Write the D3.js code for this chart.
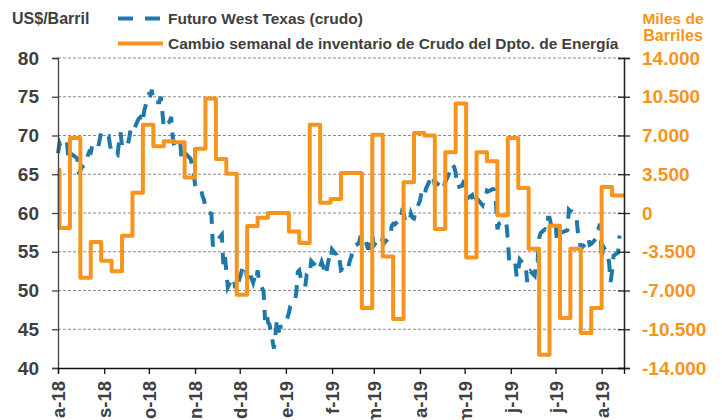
<!DOCTYPE html>
<html>
<head>
<meta charset="utf-8">
<script src="https://cdn.jsdelivr.net/npm/d3@7"></script>
<style>
  body { margin: 0; background: #fff; }
  svg { font-family: "Liberation Sans", Arial, sans-serif; font-weight: bold; }
</style>
</head>
<body>
<div id="chart"></div>
<script>
// Futuro WTI (US$/barril), dias habiles
var wtiData = [
  ["2018-08-01",67.7],["2018-08-02",69.0],["2018-08-03",68.5],["2018-08-06",69.0],["2018-08-07",69.2],["2018-08-08",66.9],["2018-08-09",66.8],["2018-08-10",67.6],
  ["2018-08-13",67.2],["2018-08-14",67.0],["2018-08-15",65.0],["2018-08-16",65.5],["2018-08-17",65.9],["2018-08-20",66.4],["2018-08-21",67.4],["2018-08-22",67.9],
  ["2018-08-23",67.8],["2018-08-24",68.7],["2018-08-27",68.9],["2018-08-28",68.5],["2018-08-29",69.5],["2018-08-30",70.3],["2018-08-31",69.8],
  ["2018-09-04",69.9],["2018-09-05",68.7],["2018-09-06",67.8],["2018-09-07",67.8],["2018-09-10",67.5],["2018-09-11",69.3],["2018-09-12",70.4],["2018-09-13",68.6],
  ["2018-09-14",69.0],["2018-09-17",68.9],["2018-09-18",69.9],["2018-09-19",71.1],["2018-09-20",70.8],["2018-09-21",70.8],["2018-09-24",72.1],["2018-09-25",72.3],
  ["2018-09-26",71.6],["2018-09-27",72.1],["2018-09-28",73.3],
  ["2018-10-01",75.3],["2018-10-02",75.2],["2018-10-03",75.9],["2018-10-04",74.3],["2018-10-05",74.3],["2018-10-08",74.3],["2018-10-09",75.0],["2018-10-10",73.2],
  ["2018-10-11",71.0],["2018-10-12",71.3],["2018-10-15",71.8],["2018-10-16",72.4],["2018-10-17",69.8],["2018-10-18",68.7],["2018-10-19",69.1],["2018-10-22",69.2],
  ["2018-10-23",66.9],["2018-10-24",66.8],["2018-10-25",67.3],["2018-10-26",67.6],["2018-10-29",67.0],["2018-10-30",66.2],["2018-10-31",65.3],
  ["2018-11-01",63.7],["2018-11-02",63.1],["2018-11-05",63.1],["2018-11-06",62.2],["2018-11-07",61.7],["2018-11-08",60.7],["2018-11-09",60.2],["2018-11-12",59.9],
  ["2018-11-13",55.7],["2018-11-14",56.3],["2018-11-15",56.5],["2018-11-16",56.5],["2018-11-19",57.2],["2018-11-20",53.4],["2018-11-21",54.6],["2018-11-23",50.4],
  ["2018-11-26",51.6],["2018-11-27",51.6],["2018-11-28",50.3],["2018-11-29",51.5],["2018-11-30",50.9],
  ["2018-12-03",53.0],["2018-12-04",53.3],["2018-12-05",52.9],["2018-12-06",51.5],["2018-12-07",52.6],["2018-12-10",51.0],["2018-12-11",51.7],["2018-12-12",51.2],
  ["2018-12-13",52.6],["2018-12-14",51.2],["2018-12-17",49.9],["2018-12-18",46.2],["2018-12-19",47.2],["2018-12-20",45.9],["2018-12-21",45.6],["2018-12-24",42.5],
  ["2018-12-26",46.2],["2018-12-27",44.6],["2018-12-28",45.3],["2018-12-31",45.4],
  ["2019-01-02",46.5],["2019-01-03",47.1],["2019-01-04",48.0],["2019-01-07",48.5],["2019-01-08",49.8],["2019-01-09",52.4],["2019-01-10",52.6],["2019-01-11",51.6],
  ["2019-01-14",50.5],["2019-01-15",52.1],["2019-01-16",52.3],["2019-01-17",52.1],["2019-01-18",53.8],["2019-01-22",53.0],["2019-01-23",52.6],["2019-01-24",53.1],
  ["2019-01-25",53.7],["2019-01-28",52.0],["2019-01-29",53.3],["2019-01-30",54.2],["2019-01-31",53.8],
  ["2019-02-01",55.3],["2019-02-04",54.6],["2019-02-05",53.7],["2019-02-06",54.0],["2019-02-07",52.6],["2019-02-08",52.7],["2019-02-11",52.4],["2019-02-12",53.1],
  ["2019-02-13",53.9],["2019-02-14",54.4],["2019-02-15",55.6],["2019-02-19",56.1],["2019-02-20",56.9],["2019-02-21",57.0],["2019-02-22",57.3],["2019-02-25",55.5],
  ["2019-02-26",55.5],["2019-02-27",56.9],["2019-02-28",57.2],
  ["2019-03-01",55.8],["2019-03-04",56.6],["2019-03-05",56.6],["2019-03-06",56.2],["2019-03-07",56.7],["2019-03-08",56.1],["2019-03-11",56.8],["2019-03-12",56.9],
  ["2019-03-13",58.3],["2019-03-14",58.6],["2019-03-15",58.5],["2019-03-18",59.1],["2019-03-19",59.0],["2019-03-20",60.2],["2019-03-21",60.0],["2019-03-22",59.0],
  ["2019-03-25",58.8],["2019-03-26",59.9],["2019-03-27",59.4],["2019-03-28",59.3],["2019-03-29",60.1],
  ["2019-04-01",61.6],["2019-04-02",62.6],["2019-04-03",62.5],["2019-04-04",62.1],["2019-04-05",63.1],["2019-04-08",64.4],["2019-04-09",64.1],["2019-04-10",64.6],
  ["2019-04-11",63.6],["2019-04-12",63.9],["2019-04-15",63.4],["2019-04-16",64.1],["2019-04-17",63.8],["2019-04-18",64.0],["2019-04-22",65.7],["2019-04-23",66.3],
  ["2019-04-24",65.9],["2019-04-25",65.2],["2019-04-26",63.3],["2019-04-29",63.5],["2019-04-30",63.9],
  ["2019-05-01",63.6],["2019-05-02",61.8],["2019-05-03",61.9],["2019-05-06",62.3],["2019-05-07",61.4],["2019-05-08",62.1],["2019-05-09",61.7],["2019-05-10",61.7],
  ["2019-05-13",61.0],["2019-05-14",61.8],["2019-05-15",62.0],["2019-05-16",62.9],["2019-05-17",62.8],["2019-05-20",63.1],["2019-05-21",63.0],["2019-05-22",61.4],
  ["2019-05-23",57.9],["2019-05-24",58.6],["2019-05-28",59.1],["2019-05-29",58.8],["2019-05-30",56.6],["2019-05-31",53.5],
  ["2019-06-03",53.3],["2019-06-04",53.5],["2019-06-05",51.7],["2019-06-06",52.6],["2019-06-07",54.0],["2019-06-10",53.3],["2019-06-11",53.3],["2019-06-12",51.1],
  ["2019-06-13",52.3],["2019-06-14",52.5],["2019-06-17",51.9],["2019-06-18",53.9],["2019-06-19",53.8],["2019-06-20",56.7],["2019-06-21",57.4],["2019-06-24",57.9],
  ["2019-06-25",57.8],["2019-06-26",59.4],["2019-06-27",59.4],["2019-06-28",58.5],
  ["2019-07-01",59.1],["2019-07-02",56.3],["2019-07-03",57.3],["2019-07-05",57.5],["2019-07-08",57.7],["2019-07-09",57.8],["2019-07-10",60.4],["2019-07-11",60.2],
  ["2019-07-12",60.2],["2019-07-15",59.6],["2019-07-16",57.6],["2019-07-17",56.8],["2019-07-18",55.3],["2019-07-19",55.6],["2019-07-22",56.2],["2019-07-23",56.8],
  ["2019-07-24",55.9],["2019-07-25",56.0],["2019-07-26",56.2],["2019-07-29",56.9],["2019-07-30",58.1],["2019-07-31",58.6],
  ["2019-08-01",54.0],["2019-08-02",55.7],["2019-08-05",54.7],["2019-08-06",53.6],["2019-08-07",51.1],["2019-08-08",52.5],["2019-08-09",54.5],["2019-08-12",54.9],
  ["2019-08-13",57.1]
];

// Cambio semanal de inventarios (miles de barriles)
var invDates = [
  "2018-08-01","2018-08-02","2018-08-09","2018-08-16","2018-08-23","2018-08-30","2018-09-06","2018-09-13","2018-09-20","2018-09-27",
  "2018-10-04","2018-10-11","2018-10-18","2018-10-25","2018-11-01","2018-11-08","2018-11-15","2018-11-22","2018-11-29",
  "2018-12-06","2018-12-13","2018-12-20","2018-12-27","2019-01-03","2019-01-10","2019-01-17","2019-01-24","2019-01-31",
  "2019-02-07","2019-02-14","2019-02-21","2019-02-28","2019-03-07","2019-03-14","2019-03-21","2019-03-28",
  "2019-04-04","2019-04-11","2019-04-18","2019-04-25","2019-05-02","2019-05-09","2019-05-16","2019-05-23","2019-05-30",
  "2019-06-06","2019-06-13","2019-06-20","2019-06-27","2019-07-04","2019-07-11","2019-07-18","2019-07-25","2019-08-01","2019-08-08",
  "2019-08-16"
];
var invValues = [
  3900,-1350,6780,-5850,-2620,-4310,-5270,-2050,1820,7980,
  6020,6470,6400,3200,5810,10350,4870,3540,-7380,
  -1180,-420,0,0,-1660,-2710,7980,920,1260,
  3610,3610,-8580,7070,-3920,-9580,2770,7230,
  6990,-1450,5480,9880,-4010,5480,4670,-210,6780,
  2260,-3220,-12800,-1150,-9490,-3220,-10840,-8580,2350,1590,
  1590
];

var leftTicks = [40, 45, 50, 55, 60, 65, 70, 75, 80];
var rightTicks = [-14000, -10500, -7000, -3500, 0, 3500, 7000, 10500, 14000];
var monthTicks = ["2018-08-01","2018-09-01","2018-10-01","2018-11-01","2018-12-01","2019-01-01","2019-02-01",
                  "2019-03-01","2019-04-01","2019-05-01","2019-06-01","2019-07-01","2019-08-01"];
var monthLabels = ["a-18","s-18","o-18","n-18","d-18","e-19","f-19","m-19","a-19","m-19","j-19","j-19","a-19"];

var seriesNames = ["Futuro West Texas (crudo)", "Cambio semanal de inventario de Crudo del Dpto. de Energía"];
var blue = "#1F78AA", orange = "#F7941D", dark = "#404040";

(function () {
  var parse = d3.timeParse("%Y-%m-%d");
  var W = 722, H = 420;
  var padL = 58, padR = 624, padT = 58, padB = 368;

  var svg = d3.select("#chart").append("svg").attr("width", W).attr("height", H);

  var x = d3.scaleTime().domain([parse("2018-08-01"), parse("2019-08-16")]).range([padL, padR]);
  var yL = d3.scaleLinear().domain([40, 80]).range([padB, padT]);
  var yR = d3.scaleLinear().domain([-14000, 14000]).range([padB, padT]);

  var es = d3.formatLocale({decimal: ",", thousands: ".", grouping: [3], currency: ["$", ""], minus: "-"});
  var fmtR = es.format(",.0f");

  // lineas de grilla
  svg.append("g").selectAll("line")
    .data(leftTicks.filter(function(d) { return d > 40; }))
    .enter().append("line")
    .attr("x1", padL).attr("x2", padR)
    .attr("y1", function(d) { return yL(d); }).attr("y2", function(d) { return yL(d); })
    .style("stroke", "#8a8a8a").style("stroke-width", 1).style("stroke-dasharray", "3,2");

  // serie azul (WTI)
  var wtiLine = d3.line()
    .x(function(d) { return x(parse(d[0])); })
    .y(function(d) { return yL(d[1]); });
  svg.append("path").datum(wtiData)
    .attr("d", wtiLine)
    .style("fill", "none").style("stroke", blue).style("stroke-width", 4)
    .style("stroke-dasharray", "13,10");

  // serie naranja (inventarios)
  var invData = invDates.map(function(d, i) { return {date: parse(d), value: invValues[i]}; });
  var invLine = d3.line()
    .curve(d3.curveStepAfter)
    .x(function(d) { return x(d.date); })
    .y(function(d) { return yR(d.value); });
  svg.append("path").datum(invData)
    .attr("d", invLine)
    .style("fill", "none").style("stroke", orange).style("stroke-width", 4)
    .style("stroke-linejoin", "round");

  // ejes
  var axL = svg.append("g").attr("transform", "translate(" + padL + ",0)")
    .call(d3.axisLeft(yL).tickValues(leftTicks).tickSize(6).tickPadding(13));
  axL.selectAll("text").style("font-size", "19px").style("fill", dark).style("font-family", "Liberation Sans");
  axL.selectAll("line,path").style("stroke", dark).style("stroke-width", 1.3);

  var axR = svg.append("g").attr("transform", "translate(" + padR + ",0)")
    .call(d3.axisRight(yR).tickValues(rightTicks).tickSize(6).tickPadding(12).tickFormat(fmtR));
  axR.selectAll("text").style("font-size", "19px").style("fill", orange).style("font-family", "Liberation Sans");
  axR.selectAll("line,path").style("stroke", "#222").style("stroke-width", 1.3);
  svg.append("g").attr("transform", "translate(" + padR + ",0)")
    .call(d3.axisLeft(yR).tickValues(rightTicks).tickSize(6).tickFormat(""))
    .selectAll("line,path").style("stroke", "#222").style("stroke-width", 1.3);

  var axB = svg.append("g").attr("transform", "translate(0," + padB + ")")
    .call(d3.axisBottom(x).tickValues(monthTicks.map(parse)).tickSize(6)
      .tickFormat(function(d, i) { return monthLabels[i]; }));
  axB.selectAll("line,path").style("stroke", "#111").style("stroke-width", 1.3);
  axB.selectAll("text")
    .attr("transform", "rotate(-90)")
    .attr("x", -13).attr("y", 0).attr("dy", "0.36em")
    .style("text-anchor", "end")
    .style("font-size", "18.5px").style("fill", dark).style("font-family", "Liberation Sans");

  // titulos de ejes
  svg.append("text").attr("x", 12).attr("y", 24).text("US$/Barril")
    .style("font-size", "16px").style("fill", dark);
  svg.append("text").attr("x", 673).attr("y", 24).attr("text-anchor", "middle").text("Miles de")
    .style("font-size", "15.5px").style("fill", orange);
  svg.append("text").attr("x", 673).attr("y", 41).attr("text-anchor", "middle").text("Barriles")
    .style("font-size", "16px").style("fill", orange);

  // leyenda
  var legend = svg.append("g");
  legend.append("line").attr("x1", 118).attr("x2", 160).attr("y1", 18.5).attr("y2", 18.5)
    .style("stroke", blue).style("stroke-width", 4).style("stroke-dasharray", "15,12");
  legend.append("text").attr("x", 168).attr("y", 24).text(seriesNames[0])
    .style("font-size", "15.5px").style("fill", dark);
  legend.append("line").attr("x1", 118).attr("x2", 163).attr("y1", 43.5).attr("y2", 43.5)
    .style("stroke", orange).style("stroke-width", 4);
  legend.append("text").attr("x", 168).attr("y", 49).text(seriesNames[1])
    .style("font-size", "15.5px").style("fill", dark);
})();
</script>
</body>
</html>
